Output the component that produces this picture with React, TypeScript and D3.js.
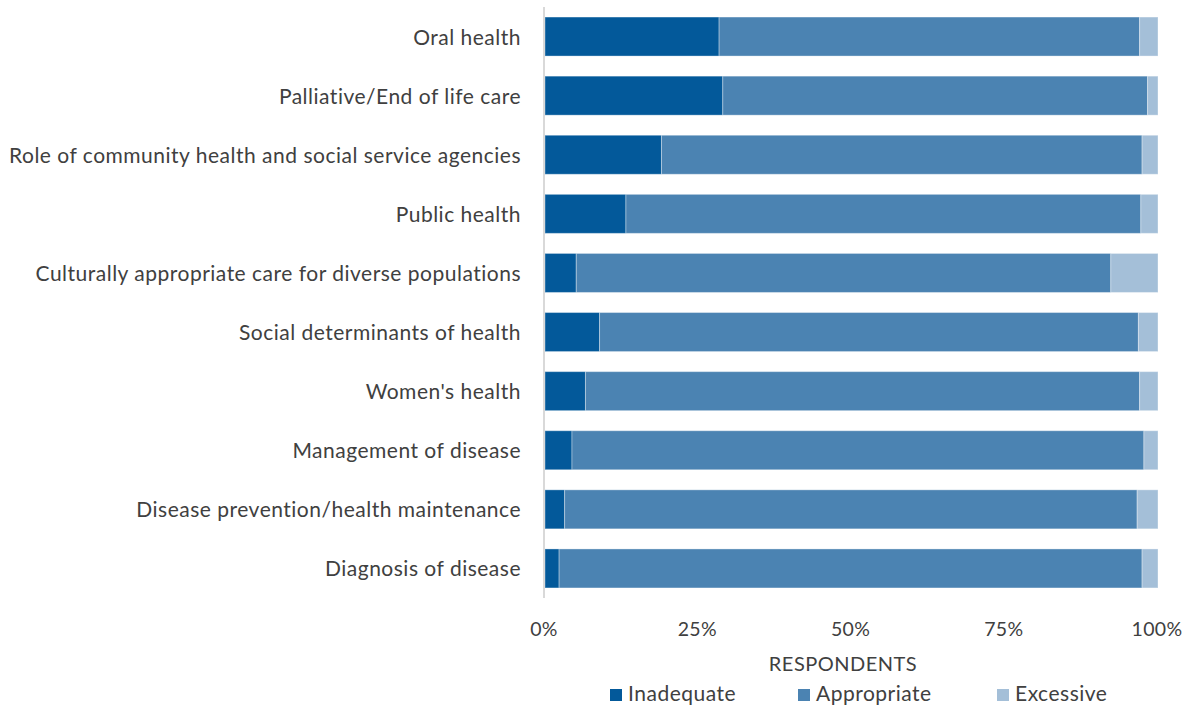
import React from "react";
import * as d3 from "d3";

const categories = [
  "Oral health",
  "Palliative/End of life care",
  "Role of community health and social service agencies",
  "Public health",
  "Culturally appropriate care for diverse populations",
  "Social determinants of health",
  "Women's health",
  "Management of disease",
  "Disease prevention/health maintenance",
  "Diagnosis of disease",
];
const inadequate = [28.4, 29.0, 19.0, 13.2, 5.1, 8.9, 6.6, 4.4, 3.2, 2.3];
const appropriate = [68.6, 69.3, 78.4, 84.0, 87.2, 87.9, 90.4, 93.3, 93.4, 95.1];
const excessive = [3.0, 1.7, 2.6, 2.8, 7.7, 3.2, 3.0, 2.3, 3.4, 2.6];
const seriesNames = ["Inadequate", "Appropriate", "Excessive"];
const seriesColors = ["#03599A", "#4B83B2", "#A4BFD8"];
const tickValues = [0, 25, 50, 75, 100];

export default function App() {
  const W = 1187, H = 708;
  const x = d3.scaleLinear().domain([0, 100]).range([545, 1158]);
  const y = d3.scaleBand<string>().domain(categories).range([7, 598]).paddingInner(0.34).paddingOuter(0.17);
  const rows = categories.map((c, i) => ({ cat: c, Inadequate: inadequate[i], Appropriate: appropriate[i], Excessive: excessive[i] }));
  const stacked = d3.stack<any>().keys(seriesNames)(rows);
  const font = "Lato, 'Open Sans', sans-serif";
  const txt = "#404040";
  const legendX = [610, 798, 997];
  return (
    <svg width={W} height={H} style={{ position: "absolute", left: 0, top: 0, background: "#fff" }} fontFamily={font}>
      {stacked.map((s, si) => (
        <g key={si} fill={seriesColors[si]}>
          {s.map((d, i) => (
            <rect key={i} x={x(d[0])} y={y(categories[i])} width={x(d[1]) - x(d[0])} height={y.bandwidth()} stroke="#ffffff" strokeOpacity={0.35} strokeWidth={1} />
          ))}
        </g>
      ))}
      <line x1={544} x2={544} y1={7} y2={598} stroke="#d9d9d9" strokeWidth={2} />
      {categories.map((c) => (
        <text key={c} x={521} y={(y(c) as number) + y.bandwidth() / 2} dy="0.38em" textAnchor="end" fontSize={21} letterSpacing={0.5} fill={txt}>{c}</text>
      ))}
      {tickValues.map((t) => (
        <text key={t} x={x(t) - 1} y={636} textAnchor="middle" fontSize={19.5} letterSpacing={0.3} fill={txt}>{t}%</text>
      ))}
      <text x={843} y={671} textAnchor="middle" fontSize={20} letterSpacing={0.5} fill={txt}>RESPONDENTS</text>
      {seriesNames.map((n, i) => (
        <g key={n}>
          <rect x={legendX[i]} y={689} width={12} height={12} fill={seriesColors[i]} />
          <text x={legendX[i] + 18} y={701} fontSize={21} letterSpacing={0.5} fill={txt}>{n}</text>
        </g>
      ))}
    </svg>
  );
}
